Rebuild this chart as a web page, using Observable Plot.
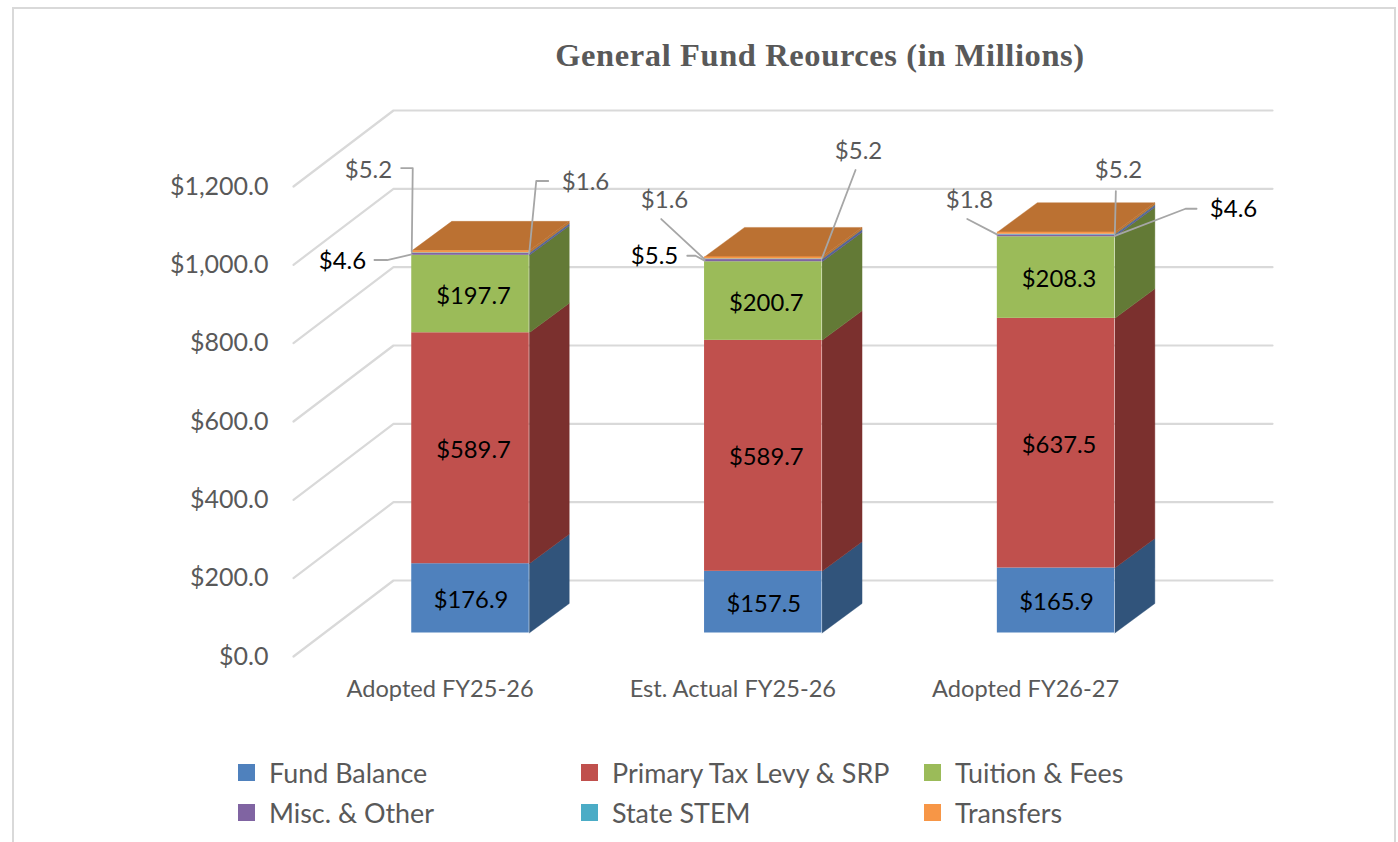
<!DOCTYPE html>
<html>
<head>
<meta charset="utf-8">
<script src="https://cdn.jsdelivr.net/npm/d3@7"></script>
<script src="https://cdn.jsdelivr.net/npm/@observablehq/plot@0.6"></script>
<style>
  html, body { margin: 0; padding: 0; background: #fff; overflow: hidden; }
  #page { position: relative; width: 1398px; height: 842px; overflow: hidden; font-family: Lato, sans-serif; }
  #frame { position: absolute; left: 12px; top: 7px; width: 1384px; height: 900px; border: 2px solid #d9d9d9; box-sizing: border-box; }
  #title { position: relative; height: 90px; box-sizing: border-box; padding: 36px 0 0 242px; text-align: center;
           font: bold 32.5px/38px "Liberation Serif", serif; letter-spacing: 0.6px; color: #595959; }
  #chart { position: relative; height: 630px; }
  #chart svg { display: block; background: transparent; }
  #legend { position: relative; display: grid; grid-template-columns: repeat(3, 343px); grid-auto-rows: 40.5px;
            padding: 32px 0 0 238px; font-size: 26.9px; color: #595959; }
  #legend div { display: flex; align-items: center; white-space: nowrap; }
  #legend i { width: 17px; height: 17px; margin-right: 14px; flex: none; }
</style>
</head>
<body>
<div id="page">
  <div id="frame"></div>
  <div id="title">General Fund Reources (in Millions)</div>
  <div id="chart"></div>
  <div id="legend"></div>
</div>
<script>
// ---- data ----
const categories = ["Adopted FY25-26", "Est. Actual FY25-26", "Adopted FY26-27"];
const seriesNames = ["Fund Balance", "Primary Tax Levy & SRP", "Tuition & Fees", "Misc. & Other", "State STEM", "Transfers"];
const fundBalance = [176.9, 157.5, 165.9];
const taxLevy = [589.7, 589.7, 637.5];
const tuition = [197.7, 200.7, 208.3];
const miscOther = [4.6, 5.5, 4.6];
const stateStem = [1.6, 1.6, 1.8];
const transfers = [5.2, 5.2, 5.2];
const yTicks = [0, 200, 400, 600, 800, 1000, 1200];

const frontColors = ["#4F81BD", "#C0504D", "#9BBB59", "#8064A2", "#4BACC6", "#F79646"];
const sideColors = ["#31547B", "#7B302E", "#637A36", "#5C5B96", "#2F7F95", "#BB7132"];
const topColor = "#BB7132";

// ---- oblique "3D" projection, expressed in scale units ----
const unitX = 292.8;          // px per category step
const unitY = 470 / 1200;     // px per dollar (millions)
const pxX = (d) => d / unitX;
const pxY = (d) => -d / unitY;
const xMin = -177 / unitX, xMax = 802 / unitX;
const wallX = pxX(100), wallY = pxY(-76);   // floor depth: front edge -> back wall
const yMax = 547 / unitY;
const barHalf = pxX(58.75), barDepthX = pxX(40), barDepthY = pxY(-29.5), barLift = pxY(-23.5);
const labelShift = -0.104;

const allValues = [fundBalance, taxLevy, tuition, miscOther, stateStem, transfers];

// stacked segments
const segments = [];
categories.forEach((category, bar) => {
  let base = 0;
  allValues.forEach((values, s) => {
    const value = values[bar];
    segments.push({category, bar, s, value, y0: base + barLift, y1: base + value + barLift,
                   x0: bar - barHalf, x1: bar + barHalf});
    base += value;
  });
});

// faces drawn as filled polygons
const faces = [];
segments.forEach((d) => {
  const id = `side-${d.bar}-${d.s}`;
  [[d.x1, d.y0], [d.x1 + barDepthX, d.y0 + barDepthY], [d.x1 + barDepthX, d.y1 + barDepthY], [d.x1, d.y1]]
    .forEach(([x, y]) => faces.push({id, x, y, fill: sideColors[d.s]}));
  if (d.s === allValues.length - 1) {
    const idTop = `top-${d.bar}`;
    [[d.x0, d.y1], [d.x0 + barDepthX, d.y1 + barDepthY], [d.x1 + barDepthX, d.y1 + barDepthY], [d.x1, d.y1]]
      .forEach(([x, y]) => faces.push({id: idTop, x, y, fill: topColor}));
  }
});

// wall and floor grid
const grid = yTicks.flatMap((t) => [
  {t, x: xMin, y: t},
  {t, x: xMin + wallX, y: t + wallY},
  {t, x: xMax, y: t + wallY}
]);

// callouts: segment, side of bar, then leader elbow/end/label offsets in px from the anchor
const callouts = [
  {bar: 0, s: 3, side: -1, elbow: [-24.6, 5.6], end: [-37.3, 5.6], label: [-69.3, 6.6]},
  {bar: 0, s: 5, side: -1, elbow: [1, -83.8], end: [-10.6, -83.8], label: [-43.3, -81.8]},
  {bar: 0, s: 4, side: 1, elbow: [7, -72.2], end: [19, -72.2], label: [56.3, -71.2]},
  {bar: 1, s: 3, side: -1, elbow: [-9, -4.9], end: [-17.3, -4.9], label: [-50, -4.1]},
  {bar: 1, s: 4, side: -1, elbow: [-43.3, -40.2], end: [-43.3, -40.2], label: [-40, -59.2]},
  {bar: 1, s: 5, side: 1, elbow: [33.5, -87.9], end: [33.5, -87.9], label: [36.5, -106.9]},
  {bar: 2, s: 3, side: 1, elbow: [70.7, -27.1], end: [81.7, -27.1], label: [118.7, -26.8]},
  {bar: 2, s: 4, side: -1, elbow: [-30.1, -15.6], end: [-30.1, -15.6], label: [-27.8, -34.6]},
  {bar: 2, s: 5, side: 1, elbow: [1, -42.2], end: [1, -42.2], label: [3.7, -63.2]}
];
const leaderPts = [], calloutText = [];
callouts.forEach((c, id) => {
  const seg = segments.find((d) => d.bar === c.bar && d.s === c.s);
  const ax = c.bar + c.side * barHalf, ay = (seg.y0 + seg.y1) / 2;
  const at = ([dx, dy]) => ({id, x: ax + pxX(dx), y: ay + pxY(dy)});
  leaderPts.push({id, x: ax, y: ay}, at(c.elbow), at(c.end));
  calloutText.push({...at(c.label), value: seg.value, s: c.s});
});

const money = (d) => "$" + d3.format(",.1f")(d);
const font = "Lato, sans-serif";

const plot = Plot.plot({
  width: 1398,
  height: 630,
  marginLeft: 293,
  marginRight: 126,
  marginTop: 19,
  marginBottom: 64,
  style: {fontFamily: font, background: "transparent"},
  x: {type: "linear", domain: [xMin, xMax], axis: null},
  y: {type: "linear", domain: [0, yMax], axis: null},
  marks: [
    Plot.line(grid, {x: "x", y: "y", z: "t", stroke: "#d9d9d9", strokeWidth: 2.2}),
    Plot.axisY(yTicks, {anchor: "left", tickSize: 0, tickPadding: 25, tickFormat: money, fontSize: 25,
                        fill: "#595959", label: null, dy: 0, textAnchor: "end"}),
    Plot.axisX(categories.map((_, i) => i + labelShift), {anchor: "bottom", tickSize: 0, tickPadding: 24, fontSize: 23.6,
                        fill: "#595959", label: null, tickFormat: (d) => categories[Math.round(d - labelShift)]}),
    Plot.line(faces, {x: "x", y: "y", z: "id", fill: "fill", stroke: "fill", strokeWidth: 0.4}),
    Plot.rect(segments, {x1: "x0", x2: "x1", y1: "y0", y2: "y1", fill: (d) => frontColors[d.s]}),
    Plot.text(segments.filter((d) => d.s === 0), {
      x: (d) => d.bar, y: (d) => (d.y0 + d.y1) / 2, text: (d) => money(d.value),
      fontSize: 23.8, fill: "#000", dx: 0.5, dy: 2
    }),
    Plot.text(segments.filter((d) => d.s === 1 || d.s === 2), {
      x: (d) => d.bar, y: (d) => (d.y0 + d.y1) / 2, text: (d) => money(d.value),
      fontSize: 23.8, fill: "#000", dx: 3, dy: 2
    }),
    Plot.line(leaderPts, {x: "x", y: "y", z: "id", stroke: "#a6a6a6", strokeWidth: 1.8}),
    Plot.text(calloutText, {
      x: "x", y: "y", text: (d) => money(d.value), fontSize: 24,
      fill: (d) => d.s === 3 ? "#000" : "#595959"
    })
  ]
});
document.getElementById("chart").appendChild(plot);

const legend = d3.select("#legend");
seriesNames.forEach((name, i) => {
  const item = legend.append("div");
  item.append("i").style("background", frontColors[i]);
  item.append("span").text(name);
});
</script>
</body>
</html>
